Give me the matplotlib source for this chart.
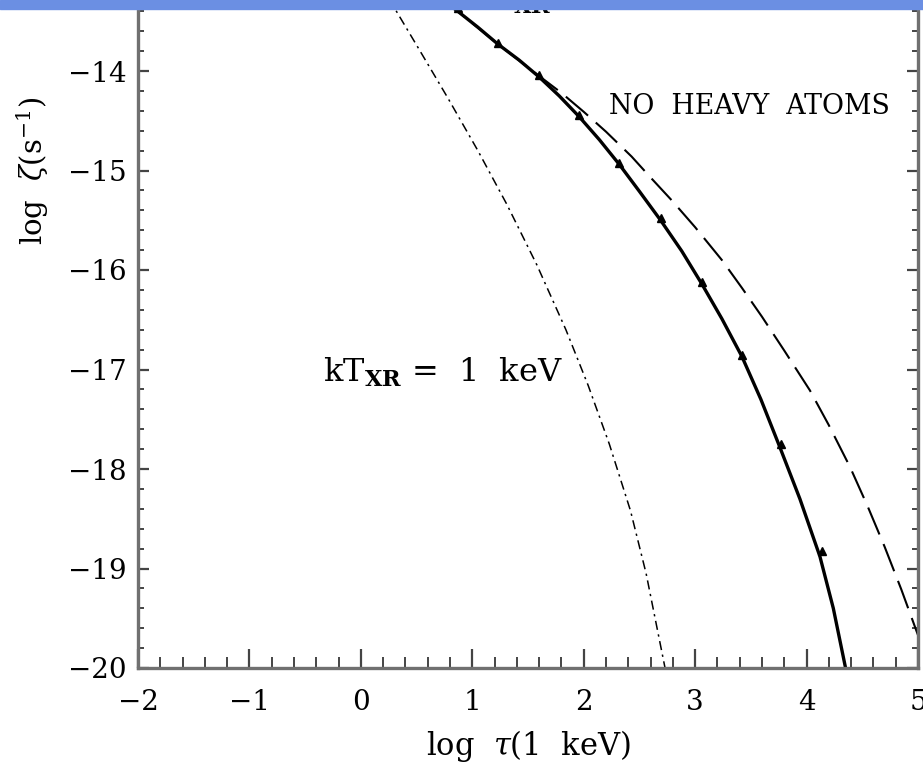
import matplotlib
matplotlib.use("Agg")
import matplotlib.pyplot as plt
from matplotlib.patches import Rectangle
from matplotlib.ticker import MultipleLocator

plt.rcParams['font.family'] = ['DejaVu Serif']
plt.rcParams['mathtext.fontset'] = 'dejavuserif'

# ionization rate vs optical depth, log-log
# solar abundances, kT_XR = 5 keV
solar_x = [0.45, 0.72, 0.87, 1.05, 1.23, 1.42, 1.60, 1.78, 1.96, 2.14, 2.32, 2.50,
           2.69, 2.88, 3.06, 3.24, 3.42, 3.59, 3.76, 3.94, 4.12, 4.24, 4.35]
solar_y = [-13.05, -13.27, -13.40, -13.56, -13.73, -13.89, -14.06, -14.25, -14.46,
           -14.69, -14.94, -15.21, -15.50, -15.81, -16.14, -16.49, -16.87, -17.30,
           -17.78, -18.30, -18.88, -19.40, -20.0]
# triangles along the solar curve
tri_x = [0.87, 1.23, 1.60, 1.96, 2.32, 2.69, 3.06, 3.42, 3.77, 4.14]
tri_y = [-13.37, -13.72, -14.04, -14.44, -14.92, -15.48, -16.12, -16.85, -17.75, -18.82]
# no heavy atoms
noheavy_x = [0.45, 0.87, 1.23, 1.60, 1.80, 2.00, 2.20, 2.43, 2.60, 2.79, 3.00, 3.24,
             3.42, 3.60, 3.80, 4.03, 4.20, 4.39, 4.55, 4.70, 4.85, 5.0]
noheavy_y = [-13.05, -13.40, -13.73, -14.05, -14.22, -14.41, -14.61, -14.86, -15.07,
             -15.30, -15.57, -15.90, -16.18, -16.47, -16.81, -17.21, -17.56, -17.98,
             -18.38, -18.78, -19.21, -19.67]
# kT_XR = 1 keV
soft_x = [0.09, 0.25, 0.50, 0.78, 1.05, 1.31, 1.58, 1.84, 2.04, 2.23, 2.42, 2.56, 2.73]
soft_y = [-12.98, -13.27, -13.74, -14.27, -14.80, -15.34, -15.95, -16.60, -17.16,
          -17.75, -18.42, -19.05, -20.0]

fig = plt.figure(figsize=(9.23, 7.67), dpi=100)
# axes run off the top edge of the figure
ax = fig.add_axes([138 / 923, 99 / 767, 780 / 923, 995 / 767])

ax.plot(solar_x, solar_y, color='black', lw=2.4, solid_joinstyle='round')
ax.plot(tri_x, tri_y, ls='none', marker='^', ms=6, color='black')
ax.plot(noheavy_x, noheavy_y, color='black', lw=1.5, ls=(0, (14, 5)))
ax.plot(soft_x, soft_y, color='black', lw=1.1, ls=(0, (6, 3, 1.5, 3)))

ax.set_xlim(-2, 5)
ax.set_ylim(-20, -10)
ax.xaxis.set_major_locator(MultipleLocator(1))
ax.xaxis.set_minor_locator(MultipleLocator(0.2))
ax.yaxis.set_major_locator(MultipleLocator(1))
ax.yaxis.set_minor_locator(MultipleLocator(0.2))
ax.tick_params(which='both', direction='in', top=True, right=True, color='#444444')
ax.tick_params(axis='x', which='major', length=14, width=1.6, labelsize=20, pad=15)
ax.tick_params(axis='x', which='minor', length=8, width=1.4)
ax.tick_params(axis='y', which='major', length=8, width=1.6, labelsize=20, pad=8)
ax.tick_params(axis='y', which='minor', length=4.5, width=1.4)
for s in ax.spines.values():
    s.set_color('#707070')
    s.set_linewidth(2.4)

ax.set_xlabel(r'log  $\tau$(1  keV)', fontsize=22, labelpad=9)
ax.set_ylabel(r'log  $\zeta$(s$^{-1}$)', fontsize=21, labelpad=12)

ax.text(3.49, -14.36, 'NO  HEAVY  ATOMS', fontsize=19.3, ha='center', va='center')
ax.text(-0.34, -17.03, r'kT$_{\mathbf{XR}}$ =  1  keV', fontsize=23, ha='left', va='center')
ax.text(1.0, -13.28, r'kT$_{\mathbf{XR}}$ =  5  keV', fontsize=23, ha='left', va='center')

# banner strip across the top
fig.patches.append(Rectangle((0, 1 - 9 / 767), 1, 9 / 767, transform=fig.transFigure,
                             color='#6b8fe3', zorder=10))

fig.savefig('out.png', dpi=100)
